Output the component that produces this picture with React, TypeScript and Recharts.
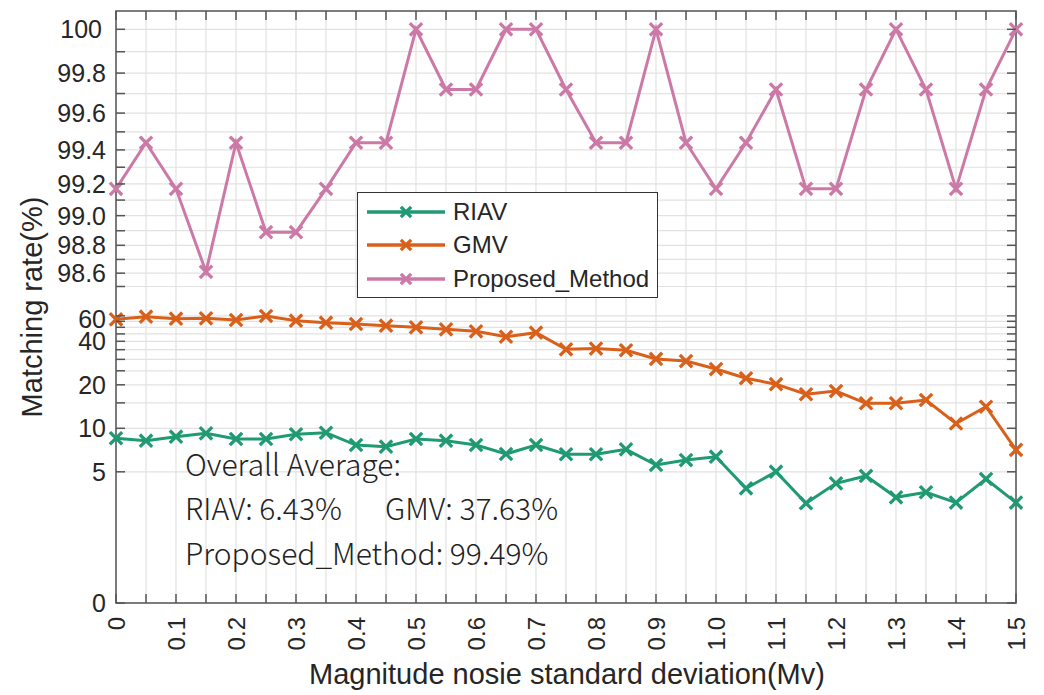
import { LineChart, Line, XAxis, YAxis, CartesianGrid, Legend } from 'recharts'

// noise std (Mv) on the x axis
const NOISE_STD = [
  0, 0.05, 0.1, 0.15, 0.2, 0.25, 0.3, 0.35, 0.4, 0.45, 0.5,
  0.55, 0.6, 0.65, 0.7, 0.75, 0.8, 0.85, 0.9, 0.95, 1.0,
  1.05, 1.1, 1.15, 1.2, 1.25, 1.3, 1.35, 1.4, 1.45, 1.5,
]

// matching rate (%)
const RIAV = [
  8.53, 8.21, 8.75, 9.23, 8.43, 8.43, 9.09, 9.32, 7.66, 7.46, 8.43,
  8.21, 7.66, 6.64, 7.66, 6.61, 6.61, 7.15, 5.57, 6.03, 6.36,
  3.84, 5.01, 3.03, 4.16, 4.68, 3.33, 3.61, 3.06, 4.46, 3.06,
]
const GMV = [
  56.8, 59.2, 57.4, 57.7, 56.2, 59.9, 55.6, 53.8, 52.7, 51.3, 50.0,
  48.4, 46.9, 43.0, 45.9, 35.2, 35.6, 34.7, 30.2, 29.2, 25.7,
  22.2, 20.2, 17.2, 18.1, 14.9, 14.9, 15.7, 10.8, 14.1, 7.1,
]
const PROPOSED = [
  99.17, 99.44, 99.17, 98.61, 99.44, 98.89, 98.89, 99.17, 99.44, 99.44, 100,
  99.72, 99.72, 100, 100, 99.72, 99.44, 99.44, 100, 99.44, 99.17,
  99.44, 99.72, 99.17, 99.17, 99.72, 100, 99.72, 99.17, 99.72, 100,
]

const Y_LABELLED = [0, 5, 10, 20, 40, 60, 98.6, 98.8, 99.0, 99.2, 99.4, 99.6, 99.8, 100]
const Y_MINOR = [15, 25, 30, 35, 45, 50, 55, 98.5, 98.7, 98.9, 99.1, 99.3, 99.5, 99.7, 99.9]

const SUMMARY_TITLE = 'Overall Average:'
const SUMMARY_RIAV = 'RIAV: 6.43%'
const SUMMARY_GMV = 'GMV: 37.63%'
const SUMMARY_PROPOSED = 'Proposed_Method: 99.49%'

const GREEN = '#1f9a72'
const ORANGE = '#d9601a'
const PINK = '#cc79a7'
const AXIS_COLOR = '#555'
const TEXT_COLOR = '#262626'
const FONT = '"Liberation Sans", Arial, sans-serif'

// legend order as plotted
const SERIES = [
  { key: 'riav', name: 'RIAV', color: GREEN },
  { key: 'gmv', name: 'GMV', color: ORANGE },
  { key: 'proposed', name: 'Proposed_Method', color: PINK },
]

const W = 1044
const H = 695
const PLOT_L = 116
const PLOT_R = 1016
const PLOT_T = 11
const PLOT_B = 603

// broken y axis, measured in plot pixels up from the bottom edge:
// below the gap it is log2 (10% -> 174.7, 43.5 px per doubling),
// above it a log of the distance to 102 stretches the 98.5..100 band
const AXIS_SPAN = PLOT_B - PLOT_T
const toAxis = (v: number) => {
  if (v <= 0) return 0
  if (v < 80) return 174.7 + 43.5 * Math.log2(v / 10)
  return 573.7 - 459.6 * Math.log((102 - v) / 2)
}

const yLabel = (v: number) => (v >= 98 && v < 100 ? v.toFixed(1) : String(v))
const Y_TEXT = new Map<number, string>(Y_LABELLED.map((v) => [toAxis(v), yLabel(v)]))
const Y_TICKS = [...Y_LABELLED, ...Y_MINOR].map(toAxis).sort((a, b) => a - b)

const data = NOISE_STD.map((x, i) => ({
  x,
  riav: toAxis(RIAV[i]),
  gmv: toAxis(GMV[i]),
  proposed: toAxis(PROPOSED[i]),
}))

function YTick({ y, payload }: any) {
  const label = Y_TEXT.get(payload.value)
  // "60" sits a little below its tick so it clears "40"
  const dy = label === '60' ? 3 : 0
  return (
    <g>
      <line x1={PLOT_L} x2={PLOT_L + 9} y1={y} y2={y} stroke={AXIS_COLOR} strokeWidth={1.5} />
      <line x1={PLOT_R - 9} x2={PLOT_R} y1={y} y2={y} stroke={AXIS_COLOR} strokeWidth={1.5} />
      {label && (
        <text x={label === '100' ? 102 : 106} y={y + dy} textAnchor="end" dominantBaseline="central"
          fontSize={25} fontFamily={FONT} fill={TEXT_COLOR}>
          {label}
        </text>
      )}
    </g>
  )
}

function XTick({ x, payload }: any) {
  const v = payload.value as number
  const labelled = Math.round(v * 20) % 2 === 0
  return (
    <g>
      <line x1={x} x2={x} y1={PLOT_B} y2={PLOT_B - 9} stroke={AXIS_COLOR} strokeWidth={1.5} />
      <line x1={x} x2={x} y1={PLOT_T} y2={PLOT_T + 9} stroke={AXIS_COLOR} strokeWidth={1.5} />
      {labelled && (
        <text x={x} y={PLOT_B + 14} transform={`rotate(-90, ${x}, ${PLOT_B + 14})`}
          textAnchor="end" dominantBaseline="central"
          fontSize={24} fontFamily={FONT} fill={TEXT_COLOR}>
          {v === 0 ? '0' : v.toFixed(1)}
        </text>
      )}
    </g>
  )
}

function Cross({ cx, cy, stroke, size = 5 }: any) {
  if (cx == null || cy == null) return null
  return (
    <g stroke={stroke} strokeWidth={3.3} strokeLinecap="square">
      <line x1={cx - size} y1={cy - size} x2={cx + size} y2={cy + size} />
      <line x1={cx - size} y1={cy + size} x2={cx + size} y2={cy - size} />
    </g>
  )
}

const crossDot = (props: any) => <Cross key={props.index} {...props} />

function LegendBox() {
  return (
    <div style={{
      width: 301, height: 106, boxSizing: 'border-box', border: '1.5px solid #333',
      background: '#fff', paddingTop: 2,
    }}>
      {SERIES.map((s) => (
        <div key={s.key} style={{ display: 'flex', alignItems: 'center', height: 33.5 }}>
          <svg width={95} height={20} style={{ flexShrink: 0 }}>
            <line x1={9} x2={87} y1={10} y2={10} stroke={s.color} strokeWidth={3.5} />
            <Cross cx={48} cy={10} stroke={s.color} size={4} />
          </svg>
          <span style={{ fontFamily: FONT, fontSize: 24, color: TEXT_COLOR }}>{s.name}</span>
        </div>
      ))}
    </div>
  )
}

export default function App() {
  return (
    <div style={{ position: 'absolute', left: 0, top: 0, background: '#fff' }}>
      <LineChart width={W} height={H} data={data}
        margin={{ top: PLOT_T, right: W - PLOT_R, left: 0, bottom: 0 }}>
        <CartesianGrid stroke="#e2e2e2" strokeWidth={1.2} />
        <XAxis dataKey="x" type="number" domain={[0, 1.5]} ticks={NOISE_STD} interval={0}
          height={H - PLOT_B} axisLine={false} tickLine={false} tick={<XTick />} />
        <YAxis type="number" domain={[0, AXIS_SPAN]} ticks={Y_TICKS} interval={0}
          width={PLOT_L} axisLine={false} tickLine={false} tick={<YTick />} />
        <Legend layout="vertical" align="center" verticalAlign="middle"
          wrapperStyle={{ left: 357, top: 192, width: 301 }} content={<LegendBox />} />
        {SERIES.map((s) => (
          <Line key={s.key} dataKey={s.key} name={s.name} stroke={s.color} strokeWidth={3}
            dot={crossDot} activeDot={false} isAnimationActive={false} />
        ))}

        <rect x={PLOT_L} y={PLOT_T} width={PLOT_R - PLOT_L} height={PLOT_B - PLOT_T}
          fill="none" stroke={AXIS_COLOR} strokeWidth={1.5} />

        <g fontFamily={'"Noto Sans CJK SC", sans-serif'} fontWeight={300} fontSize={30} fill="#222">
          <text x={185} y={476}>{SUMMARY_TITLE}</text>
          <text x={185} y={520}>{SUMMARY_RIAV}</text>
          <text x={385} y={520}>{SUMMARY_GMV}</text>
          <text x={185} y={565}>{SUMMARY_PROPOSED}</text>
        </g>

        <text x={567} y={684} textAnchor="middle" fontSize={29} fontFamily={FONT} fill={TEXT_COLOR}>
          Magnitude nosie standard deviation(Mv)
        </text>
        <text x={32} y={307} transform="rotate(-90, 32, 307)" textAnchor="middle"
          dominantBaseline="central" fontSize={29} fontFamily={FONT} fill={TEXT_COLOR}>
          Matching rate(%)
        </text>
      </LineChart>
    </div>
  )
}
